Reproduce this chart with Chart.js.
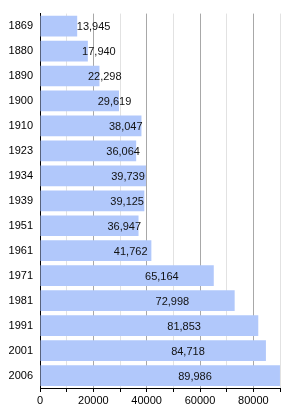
<!DOCTYPE html>
<html>
<head>
<meta charset="utf-8">
<script src="https://cdn.jsdelivr.net/npm/chart.js@4/dist/chart.umd.min.js"></script>
<style>
    html, body { margin: 0; padding: 0; background: #ffffff; }
    #wrap { width: 300px; height: 413px; position: relative; }
</style>
</head>
<body>
<div id="wrap"><canvas id="popChart"></canvas></div>
<script>
// Datos
const years = ['1869', '1880', '1890', '1900', '1910', '1923', '1934', '1939', '1951', '1961', '1971', '1981', '1991', '2001', '2006'];
const population = [13945, 17940, 22298, 29619, 38047, 36064, 39739, 39125, 36947, 41762, 65164, 72998, 81853, 84718, 89986];
const axisMax = 90000;
const axisStep = 10000;
const labelStep = 20000;

// Etiquetas de valor sobre las barras
const valueLabels = {
    id: 'valueLabels',
    afterDatasetsDraw(chart) {
        const ctx = chart.ctx;
        const meta = chart.getDatasetMeta(0);
        const x0 = chart.scales.x.getPixelForValue(0);
        ctx.save();
        ctx.font = '11px "Liberation Sans", Arial, sans-serif';
        ctx.fillStyle = '#111111';
        ctx.textAlign = 'center';
        ctx.textBaseline = 'middle';
        meta.data.forEach((bar, i) => {
            const cx = (x0 + bar.x) / 2 + 35;
            ctx.fillText(population[i].toLocaleString('en-US'), cx, bar.y + 1);
        });
        ctx.restore();
    }
};

const ctx = document.getElementById('popChart').getContext('2d');
const popChart = new Chart(ctx, {
    type: 'bar',
    data: {
        labels: years,
        datasets: [{
            data: population,
            backgroundColor: '#b1c8fb',
            borderWidth: 0,
            barPercentage: 0.83,
            categoryPercentage: 1
        }]
    },
    options: {
        indexAxis: 'y',
        responsive: true,
        maintainAspectRatio: false,
        animation: false,
        layout: {
            padding: { top: 7, right: 20, left: 0, bottom: 0 }
        },
        plugins: {
            legend: { display: false },
            tooltip: { enabled: false }
        },
        scales: {
            x: {
                min: 0,
                max: axisMax,
                afterFit(scale) { scale.height = 25; },
                ticks: {
                    stepSize: axisStep,
                    autoSkip: false,
                    maxRotation: 0,
                    padding: 2,
                    color: '#000000',
                    font: { family: '"Liberation Sans", Arial, sans-serif', size: 11 },
                    callback: (v) => (v % labelStep === 0 ? String(v) : '')
                },
                grid: {
                    color: (c) => (c.tick && c.tick.value % labelStep === 0 ? '#a8a8a8' : '#e2e2e2'),
                    tickColor: '#000000',
                    tickLength: 4,
                    drawOnChartArea: true
                },
                border: { color: '#000000', width: 1 }
            },
            y: {
                afterFit(scale) { scale.width = 40; },
                ticks: {
                    padding: 7,
                    color: '#000000',
                    font: { family: '"Liberation Sans", Arial, sans-serif', size: 11 }
                },
                grid: { display: false, drawTicks: false },
                border: { color: '#000000', width: 1 }
            }
        }
    },
    plugins: [valueLabels]
});
</script>
</body>
</html>
